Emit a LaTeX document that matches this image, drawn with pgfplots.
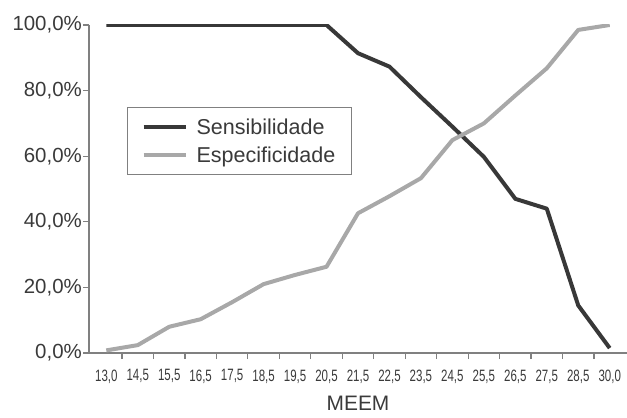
\documentclass[border=0pt]{standalone}
\usepackage{graphicx}
\usepackage{fontspec}
\setmainfont{Liberation Sans}
\usepackage{pgfplots}
\pgfplotsset{compat=1.18}
\definecolor{sens}{HTML}{383838}
\definecolor{espe}{HTML}{A8A8A8}
\definecolor{axisgray}{HTML}{808080}
\definecolor{txt}{HTML}{3A3A3A}
\newcommand{\xl}[1]{\scalebox{0.7}[1]{#1}}
\begin{document}
\begin{tikzpicture}[x=1bp,y=1bp]
\useasboundingbox (0,0) rectangle (627,417);
\begin{axis}[
  at={(89bp,64bp)}, anchor=south west,
  scale only axis, width=538bp, height=328bp,
  xmin=-0.55, xmax=16.55, ymin=0, ymax=100,
  axis x line=bottom, axis y line=left,
  axis line style={-, draw=axisgray, line width=1.8bp},
  tick style={draw=axisgray, line width=1.2bp},
  tick align=outside,
  xtick={0,...,16},
  xticklabels={\xl{13,0},\xl{14,5},\xl{15,5},\xl{16,5},\xl{17,5},\xl{18,5},\xl{19,5},\xl{20,5},\xl{21,5},\xl{22,5},\xl{23,5},\xl{24,5},\xl{25,5},\xl{26,5},\xl{27,5},\xl{28,5},\xl{30,0}},
  major x tick style={draw=none},
  minor xtick={0.5,1.5,...,15.5},
  minor tick length=6bp,
  major tick length=6bp,
  ytick={0,20,40,60,80,100},
  yticklabels={{0,0\%},{20,0\%},{40,0\%},{60,0\%},{80,0\%},{100,0\%}},
  xticklabel style={font=\fontsize{16.5}{18}\selectfont, text=txt, yshift=-7bp},
  yticklabel style={font=\fontsize{20.5}{22}\selectfont, text=txt, inner sep=1bp},
  xlabel={MEEM},
  xlabel style={font=\fontsize{21}{23}\selectfont, text=txt, yshift=-8bp, inner sep=1bp},
  legend style={at={(rel axis cs:0.0706,0.75)}, anchor=north west,
    draw=axisgray, line width=1.2bp, font=\fontsize{21.6}{23}\selectfont,
    text=txt, inner xsep=14bp, inner ysep=9bp, row sep=7bp,
    /tikz/every odd column/.append style={column sep=7bp}},
  legend cell align=left,
  legend image code/.code={\draw[#1, line width=4bp] (0bp,0bp) -- (42bp,0bp);},
]
\addplot[sens, line width=4bp, line join=round] coordinates {
(0,100) (1,100) (2,100) (3,100) (4,100) (5,100) (6,100) (7,100)
(8,91.4) (9,87.3) (10,78) (11,69) (12,59.8) (13,47) (14,44) (15,14.5) (16,1.5)};
\addlegendentry{Sensibilidade}
\addplot[espe, line width=4bp, line join=round] coordinates {
(0,0.8) (1,2.4) (2,8.0) (3,10.3) (4,15.5) (5,21.0) (6,23.8) (7,26.3)
(8,42.6) (9,47.8) (10,53.3) (11,64.9) (12,70.0) (13,78.5) (14,86.8) (15,98.5) (16,100)};
\addlegendentry{Especificidade}
\end{axis}
\end{tikzpicture}
\end{document}
